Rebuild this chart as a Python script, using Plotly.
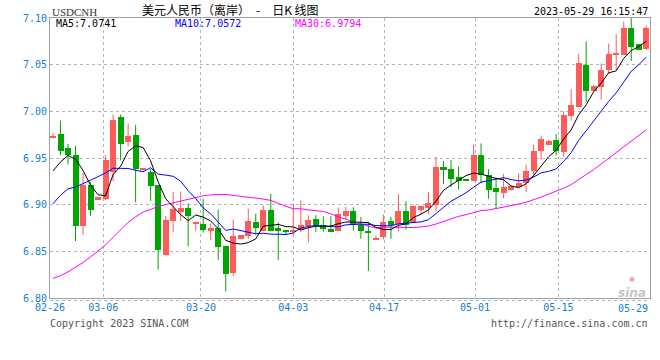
import plotly.graph_objects as go

# ---------------- data ----------------
open_ = [6.972, 6.976, 6.961, 6.9535, 6.877, 6.921, 6.906, 6.906, 6.935, 6.9936,
         6.9667, 6.9748, 6.938, 6.9355, 6.921, 6.8465, 6.8826, 6.8922, 6.8961, 6.8794,
         6.8798, 6.8727, 6.8752, 6.856, 6.8273, 6.8631, 6.866, 6.8809, 6.8716, 6.894,
         6.8745, 6.8718, 6.8712, 6.8727, 6.877, 6.8851, 6.8787, 6.8734, 6.8716, 6.8876,
         6.8936, 6.8787, 6.8706, 6.8628, 6.8652, 6.8823, 6.8794, 6.8936, 6.8816, 6.8947,
         6.8965, 6.900, 6.940, 6.9379, 6.9294, 6.9259, 6.9255, 6.9532, 6.9319, 6.9177,
         6.912, 6.9159, 6.9188, 6.9234, 6.9366, 6.9572, 6.9644, 6.9694, 6.9562, 6.9954,
         7.005, 7.0495, 7.0214, 7.0264, 7.0445, 7.0606, 7.0606, 7.0891, 7.072, 7.0663]
high = [6.977, 6.990, 6.965, 6.963, 6.934, 6.9245, 6.908, 6.953, 6.9965, 6.9965,
        6.987, 6.9855, 6.939, 6.938, 6.921, 6.888, 6.9138, 6.9138, 6.9014, 6.8816,
        6.9064, 6.8798, 6.8947, 6.856, 6.884, 6.8674, 6.8957, 6.8904, 6.8993, 6.9117,
        6.8809, 6.8718, 6.901, 6.9046, 6.8887, 6.8887, 6.8876, 6.8876, 6.8968, 6.8975,
        6.8972, 6.8869, 6.8812, 6.867, 6.8894, 6.8869, 6.9113, 6.9035, 6.899, 6.899,
        6.9135, 6.9514, 6.9468, 6.9479, 6.9408, 6.9259, 6.9645, 6.9656, 6.938, 6.929,
        6.933, 6.9195, 6.9337, 6.943, 6.9644, 6.974, 6.9694, 6.9758, 7.000, 7.0239,
        7.0613, 7.0748, 7.028, 7.0513, 7.0727, 7.0826, 7.0962, 7.0998, 7.072, 7.0916]
low = [6.971, 6.953, 6.943, 6.861, 6.868, 6.888, 6.906, 6.905, 6.925, 6.9475,
       6.9624, 6.9025, 6.9375, 6.904, 6.8305, 6.8465, 6.8706, 6.8826, 6.8553, 6.872,
       6.870, 6.862, 6.8408, 6.8071, 6.8238, 6.8631, 6.8631, 6.868, 6.8716, 6.8716,
       6.8408, 6.868, 6.8674, 6.8709, 6.8596, 6.8709, 6.8709, 6.8709, 6.8716, 6.884,
       6.8723, 6.8635, 6.829, 6.8628, 6.8628, 6.8635, 6.8716, 6.8734, 6.8805, 6.890,
       6.8894, 6.8929, 6.922, 6.9188, 6.9167, 6.9257, 6.9255, 6.923, 6.9064, 6.8954,
       6.907, 6.9152, 6.9188, 6.9134, 6.9295, 6.9483, 6.9644, 6.9526, 6.9516, 6.990,
       7.005, 7.0096, 7.0214, 7.0125, 7.0399, 7.0445, 7.0606, 7.0541, 7.0656, 7.0656]
close = [6.974, 6.958, 6.9535, 6.877, 6.921, 6.894, 6.908, 6.9475, 6.991, 6.9645,
         6.9738, 6.938, 6.9385, 6.920, 6.8518, 6.8837, 6.895, 6.8961, 6.888, 6.8816,
         6.8727, 6.8745, 6.8543, 6.8259, 6.8667, 6.8674, 6.8823, 6.8745, 6.894, 6.8716,
         6.8716, 6.8715, 6.8716, 6.878, 6.884, 6.8787, 6.8734, 6.8716, 6.8904, 6.8929,
         6.8787, 6.8716, 6.8704, 6.8645, 6.8816, 6.8787, 6.8936, 6.8787, 6.899, 6.899,
         6.9018, 6.940, 6.9372, 6.9273, 6.9255, 6.9257, 6.9532, 6.9319, 6.916, 6.9135,
         6.919, 6.9195, 6.923, 6.9366, 6.958, 6.9704, 6.9687, 6.958, 6.9964, 7.0071,
         7.0513, 7.0221, 7.0274, 7.0442, 7.0613, 7.0613, 7.0898, 7.0691, 7.0656, 7.0891]

ma5 = [6.9362, 6.9457, 6.9528, 6.9486, 6.9367, 6.9207, 6.9107, 6.9095, 6.9323, 6.9410,
       6.9570, 6.9630, 6.9612, 6.9470, 6.9244, 6.9064, 6.8978, 6.8893, 6.8829, 6.8889,
       6.8867, 6.8826, 6.8742, 6.8618, 6.8588, 6.8578, 6.8593, 6.8634, 6.8770, 6.8780,
       6.8788, 6.8766, 6.8761, 6.8729, 6.8753, 6.8768, 6.8771, 6.8771, 6.8796, 6.8814,
       6.8814, 6.8810, 6.8808, 6.8756, 6.8734, 6.8734, 6.8778, 6.8794, 6.8863, 6.8898,
       6.8944, 6.9037, 6.9154, 6.9211, 6.9264, 6.9311, 6.9338, 6.9327, 6.9305, 6.9281,
       6.9267, 6.9200, 6.9182, 6.9223, 6.9312, 6.9415, 6.9513, 6.9583, 6.9703, 6.9801,
       6.9963, 7.0070, 7.0209, 7.0304, 7.0413, 7.0433, 7.0568, 7.0651, 7.0694, 7.0750]
ma10 = [6.9010, 6.9100, 6.9170, 6.9190, 6.9225, 6.9260, 6.9300, 6.9340, 6.9390, 6.9389,
        6.9388, 6.9368, 6.9353, 6.9396, 6.9327, 6.9317, 6.9304, 6.9252, 6.9149, 6.9067,
        6.8965, 6.8902, 6.8818, 6.8724, 6.8739, 6.8722, 6.8710, 6.8688, 6.8694, 6.8684,
        6.8683, 6.8680, 6.8697, 6.8749, 6.8767, 6.8778, 6.8769, 6.8766, 6.8762, 6.8784,
        6.8791, 6.8791, 6.8790, 6.8776, 6.8774, 6.8774, 6.8794, 6.8801, 6.8810, 6.8816,
        6.8839, 6.8907, 6.8974, 6.9037, 6.9081, 6.9128, 6.9187, 6.9241, 6.9258, 6.9272,
        6.9289, 6.9269, 6.9255, 6.9264, 6.9296, 6.9341, 6.9357, 6.9383, 6.9463, 6.9557,
        6.9689, 6.9792, 6.9896, 7.0004, 7.0107, 7.0198, 7.0319, 7.0430, 7.0499, 7.0581]
ma30 = [6.8210, 6.8240, 6.8280, 6.8330, 6.8380, 6.8440, 6.8500, 6.8570, 6.8650, 6.8730,
        6.8810, 6.8870, 6.8920, 6.8950, 6.8980, 6.9000, 6.9020, 6.9040, 6.9060, 6.9080,
        6.9095, 6.9105, 6.9110, 6.9110, 6.9100, 6.9090, 6.9085, 6.9075, 6.9060, 6.9046,
        6.9012, 6.8983, 6.8956, 6.8956, 6.8944, 6.8939, 6.8927, 6.8902, 6.8869, 6.8845,
        6.8813, 6.8791, 6.8768, 6.8750, 6.8760, 6.8758, 6.8757, 6.8752, 6.8755, 6.8761,
        6.8771, 6.8793, 6.8820, 6.8854, 6.8874, 6.8893, 6.8917, 6.8936, 6.8943, 6.8957,
        6.8973, 6.8989, 6.9006, 6.9026, 6.9050, 6.9081, 6.9113, 6.9141, 6.9177, 6.9215,
        6.9272, 6.9323, 6.9375, 6.9435, 6.9495, 6.9556, 6.9621, 6.9684, 6.9740, 6.9803]

x_labels = ["02-26", "03-06", "03-20", "04-03", "04-17", "05-01", "05-15", "05-29"]
y_labels = ["6.80", "6.85", "6.90", "6.95", "7.00", "7.05", "7.10"]
ma_text = ["MA5:7.0741", "MA10:7.0572", "MA30:6.9794"]

# ---------------- styling ----------------
RED = "#ff5b5b"
GREEN = "#00a600"
AXIS_BLUE = "#1480d0"
MONO = "DejaVu Sans Mono"

n = len(close)
day = list(range(n))
up = [c >= o for o, c in zip(open_, close)]
body_base = [min(o, c) for o, c in zip(open_, close)]
body_h = [max(abs(c - o), 0.0011) for o, c in zip(open_, close)]
body_col = [RED if u else GREEN for u in up]

wx = {True: [], False: []}
wy = {True: [], False: []}
for i in range(n):
    wx[up[i]] += [day[i], day[i], None]
    wy[up[i]] += [low[i], high[i], None]

fig = go.Figure()
for key, col in ((True, RED), (False, GREEN)):
    fig.add_trace(go.Scatter(x=wx[key], y=wy[key], mode="lines",
                             line=dict(color=col, width=1), hoverinfo="skip",
                             showlegend=False))
fig.add_trace(go.Bar(x=day, y=body_h, base=body_base, width=0.8,
                     marker=dict(color=body_col, line=dict(width=0)),
                     showlegend=False))
for vals, col in ((ma30, "#ff00ff"), (ma10, "#0000ff"), (ma5, "#000000")):
    fig.add_trace(go.Scatter(x=day, y=vals, mode="lines",
                             line=dict(color=col, width=1), showlegend=False))

# tick positions on the candle-index axis
x_tick_pos = [-0.4, 6.7, 19.7, 32.0, 44.1, 56.2, 67.3]
y_tick_pos = [float(s) for s in y_labels]

fig.update_layout(
    width=660, height=360,
    margin=dict(l=50, r=10, t=18, b=62),
    paper_bgcolor="white", plot_bgcolor="white",
    bargap=0, showlegend=False,
    xaxis=dict(range=[-0.4, 79.5], tickmode="array",
               tickvals=x_tick_pos, ticktext=x_labels[:-1],
               showgrid=True, gridcolor="#b4b4b4", griddash="dot", gridwidth=1,
               showline=True, mirror=True, linecolor="#a0a0a0", linewidth=1,
               ticks="", zeroline=False,
               tickfont=dict(family=MONO, size=10, color=AXIS_BLUE)),
    yaxis=dict(range=[6.80, 7.10], tickmode="array",
               tickvals=y_tick_pos, ticktext=y_labels,
               showgrid=True, gridcolor="#b4b4b4", griddash="dot", gridwidth=1,
               showline=True, mirror=True, linecolor="#a0a0a0", linewidth=1,
               ticks="", zeroline=False,
               tickfont=dict(family=MONO, size=10, color=AXIS_BLUE)),
)

def py(ypx):
    return (298 - ypx) / 280.0

def px(xpx):
    return (xpx - 50) / 600.0

ann = [
    dict(text="USDCNH", x=px(50), y=py(12), xanchor="left",
         font=dict(family="Liberation Serif", size=11, color="#333333")),
    dict(text="美元人民币（离岸）　-　日K 线图", x=px(140), y=py(9.5), xanchor="left",
         font=dict(family="Noto Sans CJK SC", size=12, color="#000000")),
    dict(text="2023-05-29 16:15:47", x=px(650), y=py(11.5), xanchor="right",
         font=dict(family=MONO, size=10, color="#000000")),
    dict(text=ma_text[0], x=px(54), y=py(23.7), xanchor="left",
         font=dict(family=MONO, size=10, color="#000000")),
    dict(text=ma_text[1], x=px(173), y=py(23.7), xanchor="left",
         font=dict(family=MONO, size=10, color="#0000ff")),
    dict(text=ma_text[2], x=px(293), y=py(23.7), xanchor="left",
         font=dict(family=MONO, size=10, color="#ff00ff")),
    dict(text=x_labels[-1], x=px(650), y=py(308), xanchor="right",
         font=dict(family=MONO, size=10, color=AXIS_BLUE)),
    dict(text="Copyright 2023 SINA.COM", x=px(48), y=py(323), xanchor="left",
         font=dict(family=MONO, size=10, color="#555555")),
    dict(text="http://finance.sina.com.cn", x=px(650), y=py(323), xanchor="right",
         font=dict(family=MONO, size=10, color="#555555")),
    dict(text="<span style='font-size:7px;color:#f0a0a0'>◉</span><br><b><i>sina</i></b>",
         x=px(632), y=py(287), xanchor="center",
         font=dict(family="DejaVu Sans", size=12, color="#c4c4c4")),
]
for a in ann:
    a.update(xref="paper", yref="paper", yanchor="middle", showarrow=False)
fig.update_layout(annotations=ann)

fig.add_shape(type="line", xref="paper", yref="paper", x0=0, x1=1,
              y0=py(300.5), y1=py(300.5),
              line=dict(color="#b4b4b4", width=1, dash="dot"))

fig.write_html("out.html")
